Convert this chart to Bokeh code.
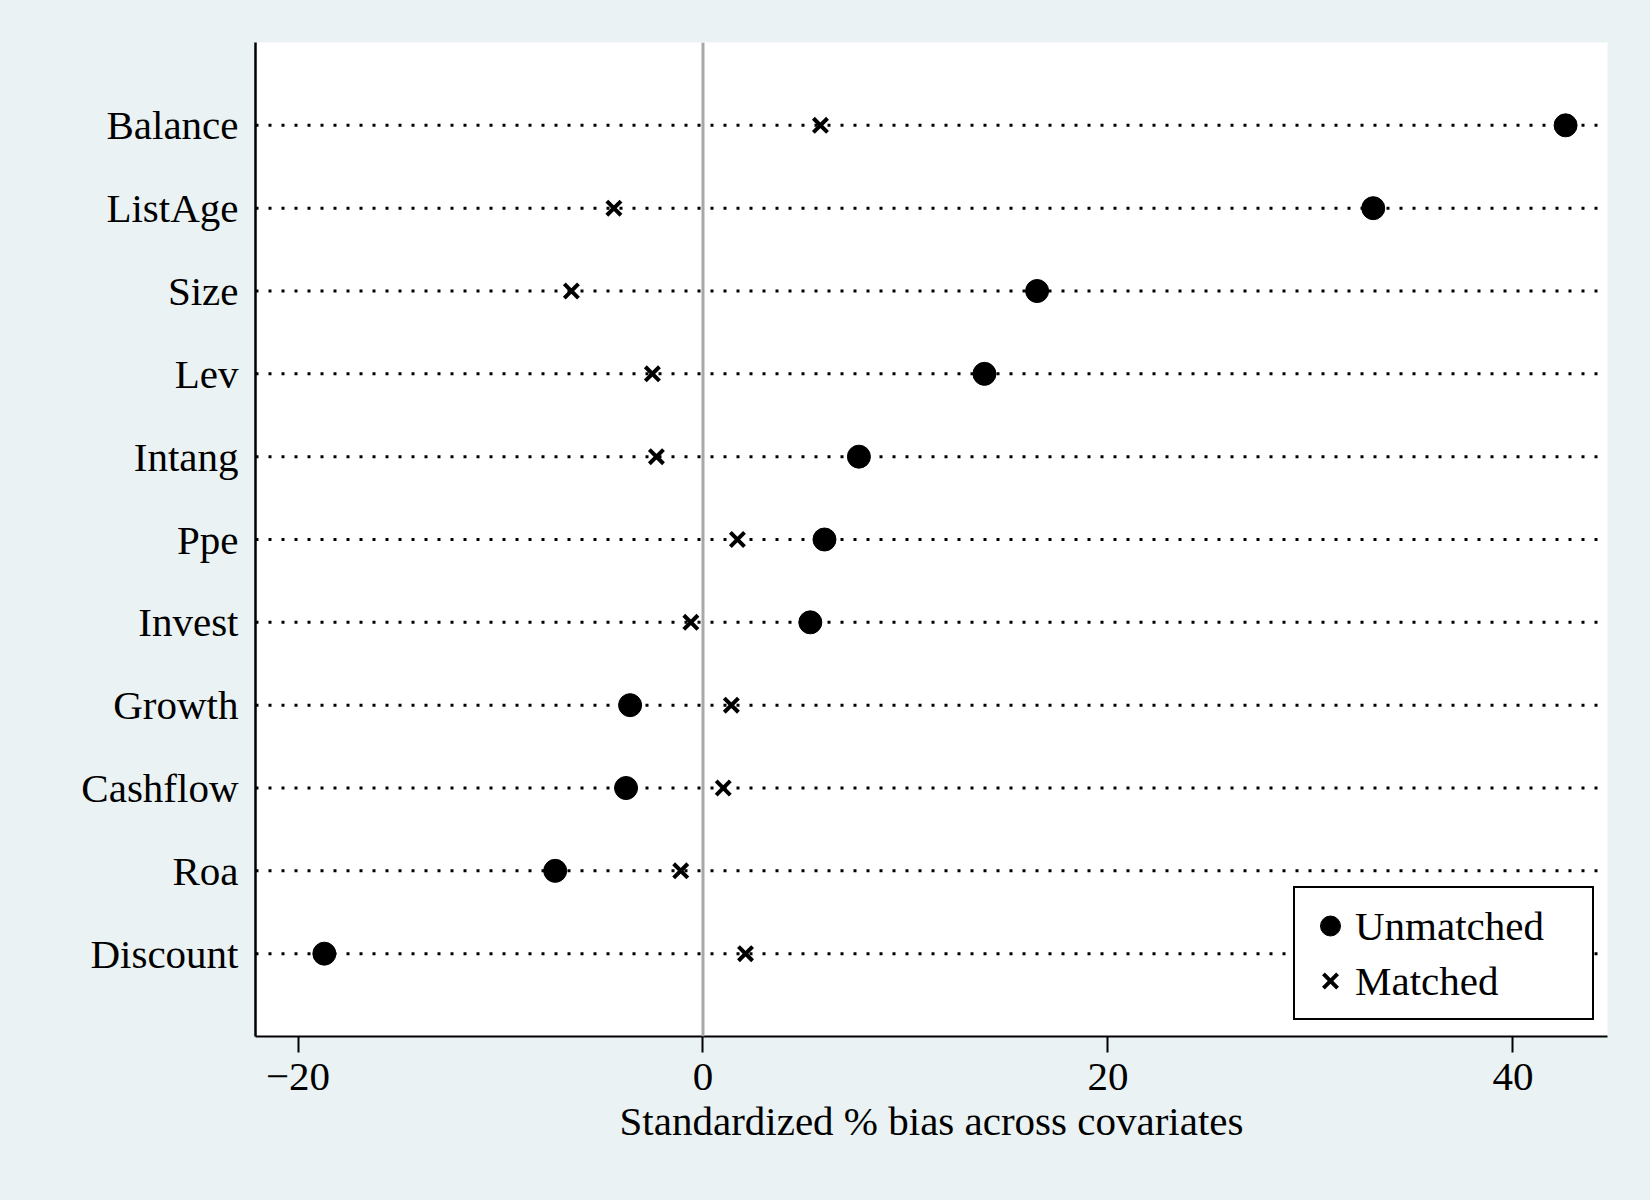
from bokeh.plotting import figure
from bokeh.models import Range1d, FixedTicker, Span, Legend, LegendItem
from bokeh.embed import file_html
from bokeh.resources import INLINE

covariates = ["Balance", "ListAge", "Size", "Lev", "Intang", "Ppe", "Invest",
              "Growth", "Cashflow", "Roa", "Discount"]
unmatched = [42.6, 33.1, 16.5, 13.9, 7.7, 6.0, 5.3, -3.6, -3.8, -7.3, -18.7]
matched = [5.8, -4.4, -6.5, -2.5, -2.3, 1.7, -0.6, 1.4, 1.0, -1.1, 2.1]
x_ticks = [-20, 0, 20, 40]
x_tick_labels = ["\u221220", "0", "20", "40"]

n = len(covariates)
ypos = [n - i for i in range(n)]

BG = "#EAF2F3"
FONT = "'Liberation Serif', 'Times New Roman', serif"

p = figure(width=1650, height=1200, output_backend="svg", toolbar_location=None,
           x_range=Range1d(-22.1, 44.67), y_range=Range1d(0, n + 1),
           min_border_left=255, min_border_right=43, min_border_top=42,
           min_border_bottom=164)
p.background_fill_color = "white"
p.border_fill_color = BG
p.outline_line_color = None
p.grid.visible = False

# dotted lines per covariate
for y in ypos:
    p.add_layout(Span(location=y, dimension="width", line_color="black",
                      line_width=3, line_dash="3 10"))
p.add_layout(Span(location=0, dimension="height", line_color="#A8A8A8", line_width=3))

r_un = p.scatter(unmatched, ypos, marker="circle", size=23, fill_color="black",
                 line_color="black")
r_m = p.scatter(matched, ypos, marker="x", size=20, line_color="black", line_width=4)

legend = Legend(items=[LegendItem(label="Unmatched", renderers=[r_un]),
                       LegendItem(label="Matched", renderers=[r_m])],
                location=(1038, 16), glyph_width=50, glyph_height=55, label_height=55,
                spacing=0, padding=10, label_standoff=0, label_width=227,
                label_text_font=FONT, label_text_font_size="41px",
                label_text_color="black", border_line_color="black",
                border_line_width=2.5, border_line_alpha=1.0,
                background_fill_color="white",
                background_fill_alpha=1, margin=0)
p.add_layout(legend)

# axes
p.xaxis.ticker = FixedTicker(ticks=x_ticks)
p.xaxis.major_label_overrides = {t: l for t, l in zip(x_ticks, x_tick_labels)}
p.xaxis.axis_label = "Standardized % bias across covariates"
p.yaxis.ticker = FixedTicker(ticks=ypos)
p.yaxis.major_label_overrides = {y: c for y, c in zip(ypos, covariates)}

for ax in (p.xaxis[0], p.yaxis[0]):
    ax.axis_line_color = "black"
    ax.major_label_text_font = FONT
    ax.major_label_text_font_size = "41px"
    ax.major_label_text_color = "black"
    ax.axis_label_text_font = FONT
    ax.axis_label_text_font_size = "41px"
    ax.axis_label_text_font_style = "normal"
    ax.axis_label_text_color = "black"
    ax.minor_tick_line_color = None

p.xaxis.axis_line_width = 2
p.xaxis.major_tick_line_width = 2
p.xaxis.major_tick_line_color = "black"
p.xaxis.major_tick_out = 16
p.xaxis.major_tick_in = 0
p.xaxis.major_label_standoff = 11
p.xaxis.axis_label_standoff = 5

p.yaxis.axis_line_width = 2.5
p.yaxis.major_tick_line_color = None
p.yaxis.major_tick_out = 0
p.yaxis.major_tick_in = 0
p.yaxis.major_label_standoff = 17

html = file_html(p, INLINE)
html = html.replace("<head>", "<head><style>html,body{background:%s;margin:0;padding:0;}</style>" % BG, 1)
open("out.html", "w").write(html)
